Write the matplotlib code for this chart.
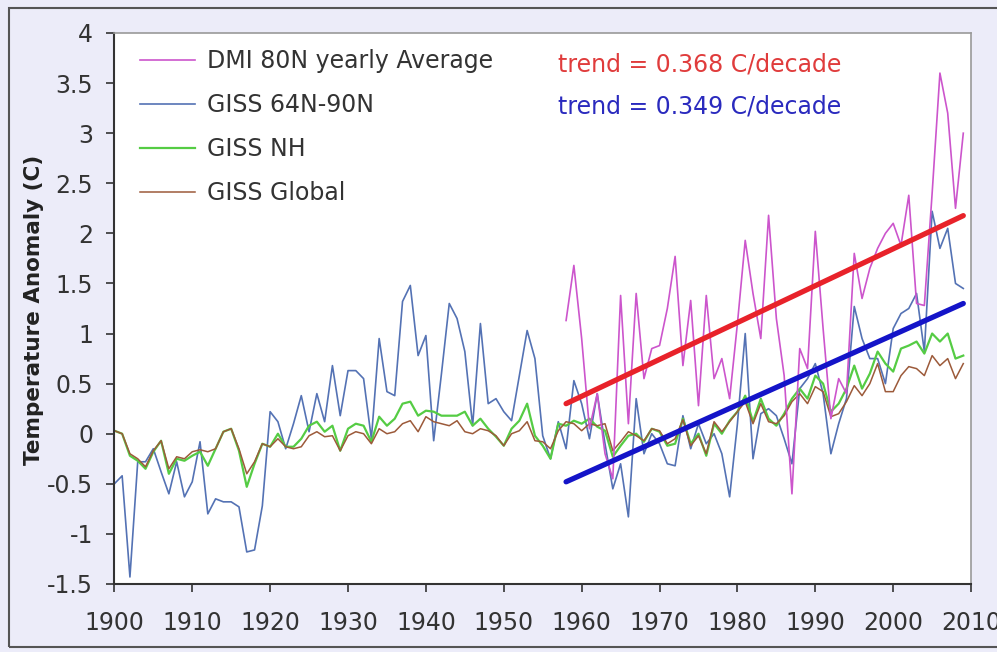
import numpy as np
import matplotlib
matplotlib.use("Agg")
import matplotlib.pyplot as plt
from matplotlib.patches import Rectangle

plt.rcParams['font.family'] = ['DejaVu Sans']

# --- data ---
giss_years = np.arange(1900, 2010)
dmi_years = np.arange(1958, 2010)

dmi_80n = [1.13, 1.68, 0.95, 0.05, 0.40, -0.20, -0.45, 1.38, 0.10, 1.40,
           0.55, 0.85, 0.88, 1.25, 1.77, 0.68, 1.33, 0.28, 1.38, 0.55,
           0.75, 0.35, 1.10, 1.93, 1.40, 0.95, 2.18, 1.15, 0.58, -0.60,
           0.85, 0.65, 2.02, 1.05, 0.15, 0.55, 0.40, 1.80, 1.35, 1.65,
           1.85, 2.00, 2.10, 1.88, 2.38, 1.30, 1.28, 2.40, 3.60, 3.20,
           2.25, 3.00]

giss_64n90n = [-0.50, -0.42, -1.43, -0.28, -0.28, -0.15, -0.38, -0.60, -0.28, -0.63,
               -0.48, -0.08, -0.80, -0.65, -0.68, -0.68, -0.73, -1.18, -1.16, -0.72,
               0.22, 0.12, -0.15, 0.10, 0.38, 0.02, 0.40, 0.12, 0.68, 0.18,
               0.63, 0.63, 0.55, -0.05, 0.95, 0.42, 0.38, 1.32, 1.48, 0.78,
               0.98, -0.07, 0.60, 1.30, 1.15, 0.82, 0.08, 1.10, 0.30, 0.35,
               0.22, 0.13, 0.58, 1.03, 0.75, -0.02, -0.25, 0.12, -0.15, 0.53,
               0.30, -0.05, 0.40, -0.10, -0.55, -0.30, -0.83, 0.35, -0.20, 0.00,
               -0.10, -0.30, -0.32, 0.18, -0.15, 0.10, -0.10, 0.00, -0.20, -0.63,
               0.10, 1.00, -0.25, 0.20, 0.25, 0.18, -0.05, -0.30, 0.45, 0.55,
               0.70, 0.40, -0.20, 0.10, 0.35, 1.27, 0.95, 0.75, 0.75, 0.50,
               1.05, 1.20, 1.25, 1.40, 0.82, 2.22, 1.85, 2.05, 1.50, 1.45]

giss_nh = [0.03, 0.00, -0.22, -0.27, -0.35, -0.18, -0.07, -0.40, -0.25, -0.27,
           -0.22, -0.18, -0.32, -0.15, 0.02, 0.05, -0.17, -0.53, -0.30, -0.10,
           -0.13, 0.00, -0.13, -0.13, -0.05, 0.08, 0.12, 0.02, 0.08, -0.17,
           0.05, 0.10, 0.08, -0.08, 0.17, 0.08, 0.15, 0.30, 0.32, 0.18,
           0.23, 0.22, 0.18, 0.18, 0.18, 0.22, 0.08, 0.15, 0.05, -0.03,
           -0.12, 0.05, 0.13, 0.30, -0.02, -0.12, -0.25, 0.10, 0.08, 0.13,
           0.10, 0.15, 0.07, 0.03, -0.23, -0.12, -0.02, 0.00, -0.08, 0.05,
           0.02, -0.12, -0.10, 0.15, -0.10, 0.00, -0.22, 0.10, 0.00, 0.13,
           0.22, 0.38, 0.12, 0.35, 0.15, 0.08, 0.20, 0.35, 0.45, 0.35,
           0.58, 0.50, 0.22, 0.30, 0.45, 0.68, 0.45, 0.60, 0.82, 0.70,
           0.62, 0.85, 0.88, 0.92, 0.80, 1.00, 0.92, 1.00, 0.75, 0.78]

giss_global = [0.03, 0.00, -0.20, -0.25, -0.33, -0.17, -0.07, -0.35, -0.23, -0.25,
               -0.18, -0.16, -0.18, -0.15, 0.02, 0.05, -0.15, -0.40, -0.28, -0.10,
               -0.13, -0.05, -0.13, -0.15, -0.13, -0.02, 0.02, -0.03, -0.02, -0.17,
               -0.02, 0.02, 0.00, -0.10, 0.05, 0.00, 0.02, 0.10, 0.13, 0.02,
               0.17, 0.12, 0.10, 0.08, 0.13, 0.02, 0.00, 0.05, 0.03, -0.02,
               -0.12, 0.00, 0.03, 0.12, -0.07, -0.08, -0.15, 0.03, 0.12, 0.10,
               0.03, 0.10, 0.08, 0.10, -0.17, -0.08, 0.02, -0.02, -0.07, 0.05,
               0.03, -0.10, -0.05, 0.14, -0.12, -0.02, -0.20, 0.12, 0.02, 0.12,
               0.22, 0.32, 0.10, 0.30, 0.12, 0.10, 0.18, 0.32, 0.40, 0.30,
               0.47, 0.42, 0.17, 0.20, 0.32, 0.48, 0.38, 0.50, 0.70, 0.42,
               0.42, 0.58, 0.67, 0.65, 0.58, 0.78, 0.68, 0.75, 0.55, 0.70]

# trend lines: (C/decade, value at start year)
trend_dmi = (0.368, 0.30)
trend_giss = (0.349, -0.48)
trend_years = [1958, 2009]

x_ticks = list(range(1900, 2011, 10))
y_ticks = [-1.5, -1, -0.5, 0, 0.5, 1, 1.5, 2, 2.5, 3, 3.5, 4]
y_ticklabels = ['-1.5', '-1', '-0.5', '0', '0.5', '1', '1.5', '2', '2.5', '3', '3.5', '4']

fig = plt.figure(figsize=(9.97, 6.52), dpi=100, facecolor='#ececf9')
ax = fig.add_axes([0.1147, 0.1043, 0.8593, 0.8451])
ax.set_facecolor('white')

# outer frame
fig.patches.append(Rectangle((0.009, 0.008), 1.0, 0.980, transform=fig.transFigure,
                             fill=False, edgecolor='#555555', linewidth=1.5))

ax.plot(dmi_years, dmi_80n, color='#cc55cc', lw=1.2, label='DMI 80N yearly Average', zorder=3)
ax.plot(giss_years, giss_64n90n, color='#5472b4', lw=1.2, label='GISS 64N-90N', zorder=2)
ax.plot(giss_years, giss_nh, color='#55cc44', lw=1.6, label='GISS NH', zorder=2)
ax.plot(giss_years, giss_global, color='#9c5a3a', lw=1.1, label='GISS Global', zorder=2)

for (slope, start), col in [(trend_dmi, '#e8222a'), (trend_giss, '#1414c8')]:
    ty = [start + slope * (y - trend_years[0]) / 10 for y in trend_years]
    ax.plot(trend_years, ty, color=col, lw=3.8, solid_capstyle='round', zorder=4)

ax.text(0.518, 0.943, 'trend = 0.368 C/decade', transform=ax.transAxes,
        color='#e03c3c', fontsize=17, va='center', ha='left')
ax.text(0.518, 0.867, 'trend = 0.349 C/decade', transform=ax.transAxes,
        color='#2a2abe', fontsize=17, va='center', ha='left')

ax.set_xlim(1900, 2010)
ax.set_ylim(-1.5, 4)
ax.set_xticks(x_ticks)
ax.set_yticks(y_ticks)
ax.set_yticklabels(y_ticklabels)
ax.tick_params(axis='both', labelsize=17, labelcolor='#333333', color='#333333',
               direction='out', length=5.8, width=1.2)
ax.tick_params(axis='x', pad=14)
ax.tick_params(axis='y', pad=9.5)

for side in ['left', 'bottom']:
    ax.spines[side].set_color('#333333')
    ax.spines[side].set_linewidth(1.5)
for side in ['top', 'right']:
    ax.spines[side].set_color('#9a9a9a')
    ax.spines[side].set_linewidth(1.2)

ax.set_ylabel('Temperature Anomaly (C)', fontsize=15.5, fontweight='bold', color='#222222')
ax.yaxis.set_label_coords(-0.082, 0.497)

leg = ax.legend(loc='upper left', bbox_to_anchor=(0.030, 0.971), frameon=False,
                fontsize=17, handlelength=2.33, handletextpad=0.5,
                labelspacing=0.85, borderaxespad=0, borderpad=0)
for t in leg.get_texts():
    t.set_color('#333333')

fig.savefig('out.png', dpi=100, facecolor=fig.get_facecolor())
